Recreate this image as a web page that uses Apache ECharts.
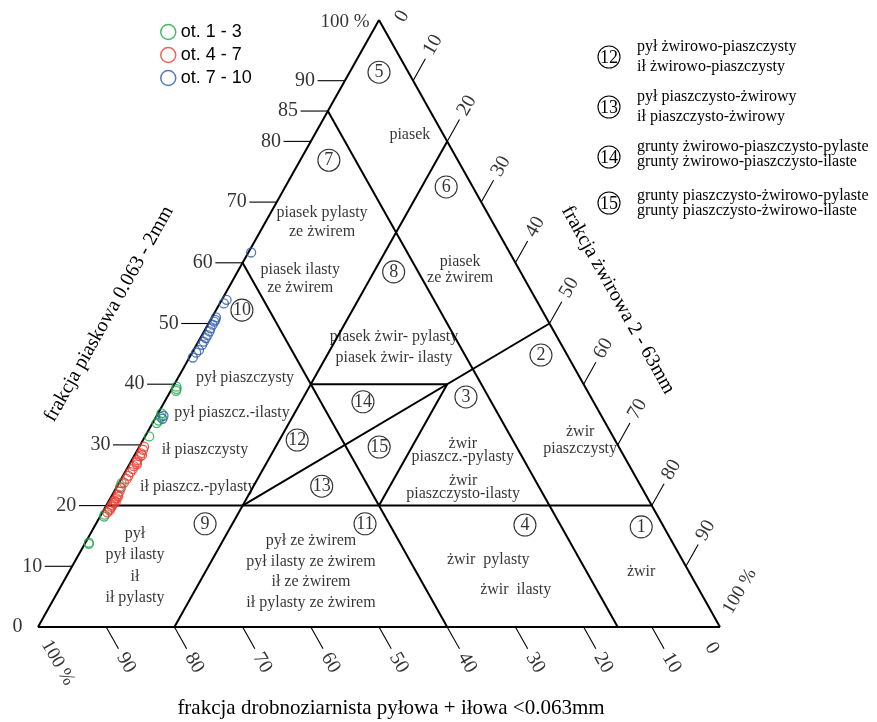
<!DOCTYPE html>
<html><head><meta charset="utf-8">
<script src="https://cdn.jsdelivr.net/npm/echarts@6/dist/echarts.min.js"></script>
<style>html,body{margin:0;padding:0;background:#fff}#c{width:877px;height:722px}</style>
</head><body><div id="c"></div>
<script>
// ---- DATA: points given as [sand %, gravel %]  (fines = 100 - sand - gravel)
const groupNames = ['ot. 1 - 3', 'ot. 4 - 7', 'ot. 7 - 10'];
const greenPts = [[39.6,0.5],[38.9,0.8],[39.2,0.7],[35.2,0.5],[34.6,0.7],[34.0,0.7],[33.6,0.6],[31.4,0.6],[23.7,0.4],[23.1,0.5],[18.5,0.5],[18.2,0.6],[13.9,0.5],[13.7,0.6]];
const redPts = [[29.7,0.7],[29.2,0.8],[28.6,0.8],[28.1,0.9],[27.5,0.8],[27.1,0.9],[26.5,0.8],[26.0,0.9],[25.5,0.8],[24.9,0.8],[24.4,0.8],[23.8,0.7],[22.9,0.7],[22.3,0.8],[21.8,0.8],[21.2,0.9],[20.8,0.8],[20.4,0.9],[20.1,0.8],[19.8,0.9],[19.5,0.8],[19.2,0.9],[18.9,0.7],[20.6,1.1],[21.5,1.0],[26.8,1.1],[28.3,1.1]];
const bluePts = [[61.7,0.4],[53.9,0.7],[53.3,0.6],[51.0,0.6],[50.6,0.7],[50.3,0.7],[49.8,0.7],[49.2,0.7],[48.7,0.8],[48.1,0.8],[47.6,0.8],[47.0,0.8],[46.5,0.8],[45.6,0.8],[45.2,0.6],[44.4,0.5],[34.3,1.1],[34.8,1.0]];

// boundaries between soil classes, endpoints as [sand, gravel]
const boundaries = [
  [[0,0],[0,100]], [[0,100],[100,0]], [[100,0],[0,0]],
  [[20,0],[20,80]], [[40,20],[40,40]],
  [[0,20],[80,20]], [[85,0],[0,85]], [[60,0],[0,60]],
  [[20,20],[50,50]], [[40,40],[20,40]]
];

// tick values
const sandTicks = [10,20,30,40,50,60,70,80,85,90];
const finesTicks = [90,80,70,60,50,40,30,20,10];
const gravelTicks = [10,20,30,40,50,60,70,80,90];
const sandEndLabels = ['0','100 %'];
const finesEndLabels = ['100 %','0'];
const gravelEndLabels = ['0','100 %'];

// class numbers and names, anchors as [sand, gravel]
const classNums = ['1','2','3','4','5','6','7','8','9','10','11','12','13','14','15'];
const classNumAt = [[16.5,80.2],[44.8,51.35],[37.9,43.8],[16.8,63.0],[91.4,4.3],[72.5,23.6],[76.9,4.2],[58.5,22.9],[17.0,16.0],[52.2,3.8],[17.0,39.45],[30.8,22.6],[23.2,30.0],[37.1,29.1],[29.65,35.2]];
const classTexts = ['piasek','piasek pylasty\nze żwirem','piasek ilasty\nze żwirem','piasek\nze żwirem','piasek żwir- pylasty\npiasek żwir- ilasty','pył piaszczysty','pył piaszcz.-ilasty','ił piaszczysty','ił piaszcz.-pylasty','żwir\npiaszcz.-pylasty','żwir\npiaszczysto-ilasty','żwir\npiaszczysty','pył\npył ilasty\nił\nił pylasty','pył ze żwirem\npył ilasty ze żwirem\nił ze żwirem\nił pylasty ze żwirem','żwir  pylasty','żwir  ilasty','żwir'];
const classTextAt = [[81.05,14.0],[66.7,8.3],[57.3,9.8],[58.8,32.5],[46.0,29.2],[41.0,9.85],[35.26,10.8],[29.16,9.9],[23.06,11.9],[29.16,47.7],[23.06,50.8],[30.8,64.1],[10.05,9.2],[9.06,35.5],[11.04,60.5],[6.1,67.0],[9.06,83.9]];
const classTextLH = [18,19,18,16,21,18,18,18,18,13,13,17,21.5,20.5,18,18,18];

const keyNums = ['12','13','14','15'];
const keyTexts = [['pył żwirowo-piaszczysty','ił żwirowo-piaszczysty'],['pył piaszczysto-żwirowy','ił piaszczysto-żwirowy'],['grunty żwirowo-piaszczysto-pylaste','grunty żwirowo-piaszczysto-ilaste'],['grunty piaszczysto-żwirowo-pylaste','grunty piaszczysto-żwirowo-ilaste']];

const axisTitles = ['frakcja piaskowa 0.063 - 2mm','frakcja żwirowa 2 - 63mm','frakcja drobnoziarnista pyłowa + iłowa <0.063mm'];

// ---- drawing
const SERIF = '"Liberation Serif","Times New Roman",serif';
const colors = ['#1ba64b','#ee3a2e','#2a59a9'];
function tc(p){ return [p[1] + p[0]/2, p[0]]; }   // [sand, gravel] -> cartesian

const series = [];
boundaries.forEach(seg => series.push({
  type:'line', data: seg.map(tc), symbol:'none', clip:false, silent:true, z:2,
  lineStyle:{color:'#000', width:2}
}));
function tick(a, b){
  series.push({type:'line', data:[a,b], symbol:'none', clip:false, silent:true, z:1,
    lineStyle:{color:'#000', width:1.1}});
}
sandTicks.forEach(s => { const p = tc([s,0]); tick(p, [p[0]-4, p[1]]); });
finesTicks.forEach(f => { const p = tc([0,100-f]); tick(p, [p[0]+1.8, p[1]-3.6]); });
gravelTicks.forEach(g => { const p = tc([100-g,g]); tick(p, [p[0]+1.8, p[1]+3.6]); });

[greenPts, redPts, bluePts].forEach((arr, i) => series.push({
  type:'scatter', name: groupNames[i], data: arr.map(tc), symbol:'circle', symbolSize:9, clip:false, z:5,
  itemStyle:{color:'rgba(0,0,0,0)', borderColor: colors[i], borderWidth:1.3}
}));

const labels = [];
function addLabel(pos, text, lab){
  labels.push({value: pos, label: Object.assign({show:true, formatter:text, position:'inside', color:'#000', fontFamily:SERIF, fontSize:20}, lab)});
}
// sand axis labels
sandTicks.forEach(s => { const p = tc([s,0]); addLabel([p[0]-4.3, p[1]], String(s), {position:'left', distance:0}); });
addLabel([-2.2, 0], sandEndLabels[0], {position:'left', distance:0});
addLabel([48.7, 99.6], sandEndLabels[1], {position:'left', distance:0, fontSize:19});
// fines axis labels
finesTicks.forEach(f => { const p = tc([0,100-f]); addLabel([p[0]+2.9, p[1]-5.9], String(f), {rotate:-60}); });
addLabel([2.9, -5.9], finesEndLabels[0], {rotate:-60, fontSize:19});
addLabel([98.8, -3.5], finesEndLabels[1], {rotate:-60});
// gravel axis labels
gravelTicks.forEach(g => { const p = tc([100-g,g]); addLabel([p[0]+2.9, p[1]+5.9], String(g), {rotate:60}); });
addLabel([102.9, 5.9], gravelEndLabels[1], {rotate:60, fontSize:19});
addLabel([53.4, 100.6], gravelEndLabels[0], {rotate:60});
// class numbers
classNums.forEach((n,i) => addLabel(tc(classNumAt[i]), n, {
  fontSize:18, width:22, height:22, lineHeight:22, align:'center', verticalAlign:'middle',
  borderColor:'#000', borderWidth:1.1, borderRadius:12, padding:[0,0,0,0]
}));
// class names
classTexts.forEach((t,i) => addLabel(tc(classTextAt[i]), t, {fontSize:16, lineHeight:classTextLH[i], align:'center'}));

series.push({type:'scatter', data: labels, symbolSize:1, itemStyle:{color:'rgba(0,0,0,0)'}, clip:false, silent:true, z:10});

// key on the right and axis titles
const graphic = [];
const keyCY = [57,107,157,203];
const keyLineY = [[47,67],[97,117],[147,162],[196,211]];
keyNums.forEach((n,i) => {
  graphic.push({type:'circle', shape:{cx:609, cy:keyCY[i], r:11}, style:{fill:'none', stroke:'#000', lineWidth:1.1}});
  graphic.push({type:'text', x:609, y:keyCY[i]+1, style:{text:n, fontSize:18, fontFamily:SERIF, fill:'#000', align:'center', verticalAlign:'middle'}});
  keyTexts[i].forEach((t,j) => graphic.push({type:'text', x:637, y:keyLineY[i][j], style:{text:t, fontSize:16, fontFamily:SERIF, fill:'#000', align:'left', verticalAlign:'middle'}}));
});
const ang = Math.atan2(607, 341);
graphic.push({type:'text', x:109, y:314, rotation: ang, style:{text:axisTitles[0], fontSize:20, fontFamily:SERIF, fill:'#000', align:'center', verticalAlign:'middle'}});
graphic.push({type:'text', x:618, y:300, rotation: -ang, style:{text:axisTitles[1], fontSize:20, fontFamily:SERIF, fill:'#000', align:'center', verticalAlign:'middle'}});
graphic.push({type:'text', x:391, y:708, style:{text:axisTitles[2], fontSize:21, fontFamily:SERIF, fill:'#000', align:'center', verticalAlign:'middle'}});

const chart = echarts.init(document.getElementById('c'));
chart.setOption({
  animation:false,
  backgroundColor:'#fff',
  grid:{left:38, right:157, top:20, bottom:95},
  xAxis:{type:'value', min:0, max:100, show:false},
  yAxis:{type:'value', min:0, max:100, show:false},
  legend:{
    data: groupNames.map((n,i)=>({name:n, icon:'circle', itemStyle:{color:'rgba(0,0,0,0)', borderColor:colors[i], borderWidth:1.5}})),
    orient:'vertical', left:155, top:18, itemWidth:15, itemHeight:15, itemGap:5,
    textStyle:{fontSize:18, fontFamily:'"Liberation Sans",Arial,sans-serif', color:'#000'}
  },
  graphic: graphic,
  series: series
});
</script></body></html>
